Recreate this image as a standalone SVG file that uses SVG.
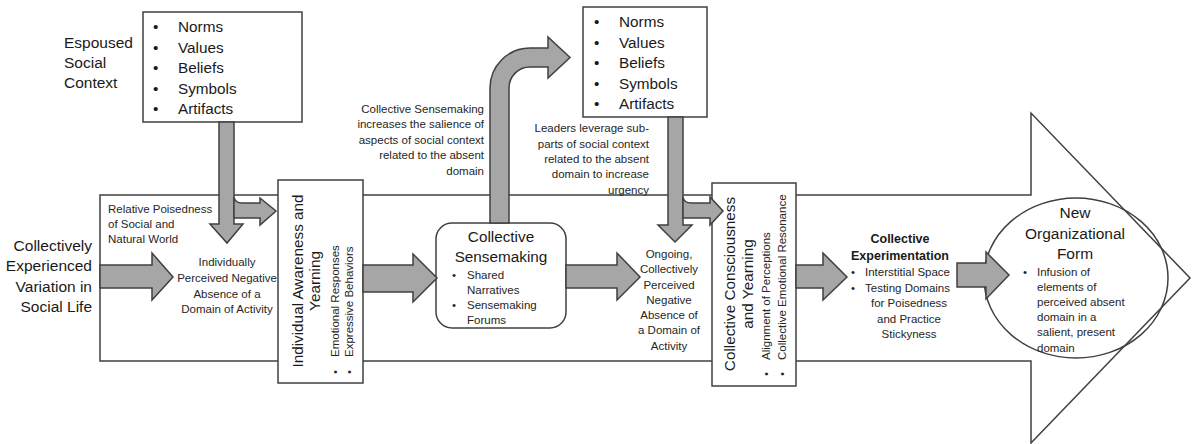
<svg xmlns="http://www.w3.org/2000/svg" width="1192" height="444" viewBox="0 0 1192 444">
  <style>
    text { font-family: "Liberation Sans", Arial, sans-serif; fill: #1a1a1a; }
    .big { font-size: 15.5px; }
    .list { font-size: 15.3px; }
    .title { font-size: 15.3px; }
    .small { font-size: 11.5px; fill: #262626; }
    .bold { font-size: 12.5px; font-weight: bold; }
    .box { fill: #ffffff; stroke: #404040; stroke-width: 1.5; }
    .outline { fill: none; stroke: #404040; stroke-width: 1.5; }
    .arr { fill: #a6a6a6; stroke: #404040; stroke-width: 1.5; stroke-linejoin: miter; }
  </style>

  <g id="main-arrow">
    <path class="outline" d="M100,195 L1031,195 L1031,113 L1190,278 L1031,443 L1031,361 L100,361 Z"/>
  </g>

  <g id="espoused-label">
    <text class="big" x="64" y="48">Espoused</text>
    <text class="big" x="64" y="68">Social</text>
    <text class="big" x="64" y="88">Context</text>
  </g>

  <g id="social-context-1">
    <rect class="box" x="143" y="12" width="159" height="110"/>
    <text class="list" x="153" y="32">•</text><text class="list" x="178" y="32">Norms</text>
    <text class="list" x="153" y="52.5">•</text><text class="list" x="178" y="52.5">Values</text>
    <text class="list" x="153" y="73">•</text><text class="list" x="178" y="73">Beliefs</text>
    <text class="list" x="153" y="93.5">•</text><text class="list" x="178" y="93.5">Symbols</text>
    <text class="list" x="153" y="114">•</text><text class="list" x="178" y="114">Artifacts</text>
  </g>

  <g id="social-context-2">
    <rect class="box" x="583" y="7" width="124" height="110"/>
    <text class="list" x="594" y="27">•</text><text class="list" x="619" y="27">Norms</text>
    <text class="list" x="594" y="47.5">•</text><text class="list" x="619" y="47.5">Values</text>
    <text class="list" x="594" y="68">•</text><text class="list" x="619" y="68">Beliefs</text>
    <text class="list" x="594" y="88.5">•</text><text class="list" x="619" y="88.5">Symbols</text>
    <text class="list" x="594" y="108.5">•</text><text class="list" x="619" y="108.5">Artifacts</text>
  </g>

  <g id="variation-label">
    <text class="big" x="92" y="251" text-anchor="end">Collectively</text>
    <text class="big" x="92" y="271" text-anchor="end">Experienced</text>
    <text class="big" x="92" y="291.5" text-anchor="end">Variation in</text>
    <text class="big" x="92" y="312" text-anchor="end">Social Life</text>
  </g>

  <g id="poisedness-label">
    <text class="small" x="108" y="212.5">Relative Poisedness</text>
    <text class="small" x="108" y="227.5">of Social and</text>
    <text class="small" x="108" y="243">Natural World</text>
  </g>

  <g id="individual-absence">
    <text class="small" x="227" y="266" text-anchor="middle">Individually</text>
    <text class="small" x="227" y="282" text-anchor="middle">Perceived Negative</text>
    <text class="small" x="227" y="297.5" text-anchor="middle">Absence of a</text>
    <text class="small" x="227" y="312.5" text-anchor="middle">Domain of Activity</text>
  </g>

  <g id="individual-awareness">
    <rect class="box" x="278" y="180" width="85" height="203"/>
    <g transform="rotate(-90)">
      <text class="title" x="-281" y="303" text-anchor="middle">Individual Awareness and</text>
      <text class="title" x="-281" y="320" text-anchor="middle">Yearning</text>
      <text class="small" x="-372" y="339" text-anchor="middle">•</text>
      <text class="small" x="-357" y="339">Emotional Responses</text>
      <text class="small" x="-372" y="353" text-anchor="middle">•</text>
      <text class="small" x="-357" y="353">Expressive Behaviors</text>
    </g>
  </g>

  <g id="sensemaking-note">
    <text class="small" x="484" y="113" text-anchor="end">Collective Sensemaking</text>
    <text class="small" x="484" y="128" text-anchor="end">increases the salience of</text>
    <text class="small" x="484" y="143.5" text-anchor="end">aspects of social context</text>
    <text class="small" x="484" y="159" text-anchor="end">related to the absent</text>
    <text class="small" x="484" y="174.5" text-anchor="end">domain</text>
  </g>

  <g id="leaders-note">
    <text class="small" x="649" y="132" text-anchor="end">Leaders leverage sub-</text>
    <text class="small" x="649" y="147.5" text-anchor="end">parts of social context</text>
    <text class="small" x="649" y="162.5" text-anchor="end">related to the absent</text>
    <text class="small" x="649" y="178" text-anchor="end">domain to increase</text>
    <text class="small" x="649" y="193.5" text-anchor="end">urgency</text>
  </g>

  <g id="collective-sensemaking">
    <rect class="box" x="436" y="223" width="130" height="105" rx="16" ry="16"/>
    <text class="title" x="501" y="241.5" text-anchor="middle">Collective</text>
    <text class="title" x="501" y="262" text-anchor="middle">Sensemaking</text>
    <text class="small" x="452" y="279">•</text><text class="small" x="467" y="279">Shared</text>
    <text class="small" x="467" y="294">Narratives</text>
    <text class="small" x="452" y="309">•</text><text class="small" x="467" y="309">Sensemaking</text>
    <text class="small" x="467" y="324">Forums</text>
  </g>

  <g id="ongoing-absence">
    <text class="small" x="669" y="257.5" text-anchor="middle">Ongoing,</text>
    <text class="small" x="669" y="273" text-anchor="middle">Collectively</text>
    <text class="small" x="669" y="288.5" text-anchor="middle">Perceived</text>
    <text class="small" x="669" y="303.5" text-anchor="middle">Negative</text>
    <text class="small" x="669" y="319" text-anchor="middle">Absence of</text>
    <text class="small" x="669" y="334" text-anchor="middle">a Domain of</text>
    <text class="small" x="669" y="350" text-anchor="middle">Activity</text>
  </g>

  <g id="collective-consciousness">
    <rect class="box" x="712" y="183" width="84" height="203"/>
    <g transform="rotate(-90)">
      <text class="title" x="-284" y="735" text-anchor="middle">Collective Consciousness</text>
      <text class="title" x="-284" y="753" text-anchor="middle">and Yearning</text>
      <text class="small" x="-374" y="770" text-anchor="middle">•</text>
      <text class="small" x="-360" y="770">Alignment of Perceptions</text>
      <text class="small" x="-374" y="786" text-anchor="middle">•</text>
      <text class="small" x="-360" y="786">Collective Emotional Resonance</text>
    </g>
  </g>

  <g id="collective-experimentation">
    <text class="bold" x="900" y="243" text-anchor="middle">Collective</text>
    <text class="bold" x="900" y="260" text-anchor="middle">Experimentation</text>
    <text class="small" x="851" y="276">•</text><text class="small" x="865" y="276">Interstitial Space</text>
    <text class="small" x="851" y="292">•</text><text class="small" x="865" y="292">Testing Domains</text>
    <text class="small" x="909" y="307" text-anchor="middle">for Poisedness</text>
    <text class="small" x="909" y="322.5" text-anchor="middle">and Practice</text>
    <text class="small" x="909" y="338" text-anchor="middle">Stickyness</text>
  </g>

  <g id="new-organizational-form">
    <ellipse class="outline" cx="1076" cy="278" rx="92" ry="80"/>
    <text class="big" x="1075" y="218" text-anchor="middle">New</text>
    <text class="big" x="1075" y="239" text-anchor="middle">Organizational</text>
    <text class="big" x="1075" y="259" text-anchor="middle">Form</text>
    <text class="small" x="1023" y="276">•</text><text class="small" x="1037" y="276">Infusion of</text>
    <text class="small" x="1037" y="291">elements of</text>
    <text class="small" x="1037" y="306">perceived absent</text>
    <text class="small" x="1037" y="321">domain in a</text>
    <text class="small" x="1037" y="336">salient, present</text>
    <text class="small" x="1037" y="352">domain</text>
  </g>

  <g id="connectors">
    <path class="arr" d="M219,122 L219,224 L210,224 L227,243 L243,224 L234,224 L234,122 Z"/>
    <path class="arr" d="M234,197 Q235,203 242,203 L260,203 L260,198 L276,211 L260,225 L260,218 L234,218 Z"/>
    <path class="arr" d="M100,265 L152,265 L152,253 L173,277 L152,300 L152,288 L100,288 Z"/>
    <path class="arr" d="M363,265 L413,265 L413,254 L437,278 L413,302 L413,292 L363,292 Z"/>
    <path class="arr" d="M490,223 L490,88 A40,40 0 0 1 530,48 L548,48 L548,37 L570,57.5 L548,78 L548,67 L530,67 A21,21 0 0 0 509,88 L509,223 Z"/>
    <path class="arr" d="M566,265 L617,265 L617,253 L640,277 L617,300 L617,288 L566,288 Z"/>
    <path class="arr" d="M668,117 L668,225 L658,225 L675,242 L692,225 L683,225 L683,117 Z"/>
    <path class="arr" d="M683,197 Q684,203 691,203 L710,203 L710,197 L723,211 L710,225 L710,218 L683,218 Z"/>
    <path class="arr" d="M796,265 L823,265 L823,253 L847,277 L823,300 L823,288 L796,288 Z"/>
    <path class="arr" d="M957,263 L986,263 L986,252 L1009,275 L986,299 L986,287 L957,287 Z"/>
  </g>
</svg>
